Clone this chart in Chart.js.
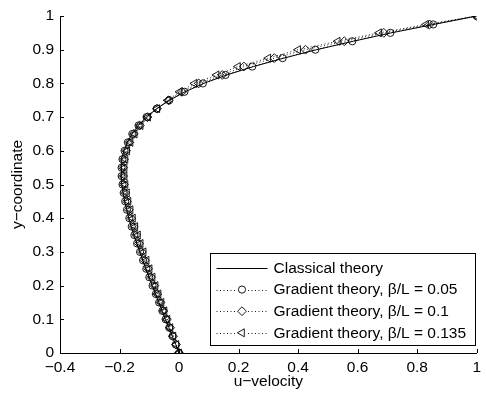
<!DOCTYPE html>
<html>
<head>
<meta charset="utf-8">
<script src="https://cdn.jsdelivr.net/npm/chart.js@4/dist/chart.umd.min.js"></script>
<style>
  html, body { margin: 0; padding: 0; background: #fff; }
  #wrap { width: 486px; height: 394px; }
</style>
</head>
<body>
<div id="wrap"><canvas id="c" width="486" height="394"></canvas></div>
<script>
// Vertical centreline samples
const yCoord = [0, 0.025, 0.05, 0.075, 0.1, 0.125, 0.15, 0.175, 0.2, 0.225,
  0.25, 0.275, 0.3, 0.325, 0.35, 0.375, 0.4, 0.425, 0.45, 0.475,
  0.5, 0.525, 0.55, 0.575, 0.6, 0.625, 0.65, 0.675, 0.7, 0.725,
  0.75, 0.775, 0.8, 0.825, 0.85, 0.875, 0.9, 0.925, 0.95, 0.975, 1];

// u-velocity, classical theory
const uClassical = [0, -0.011, -0.023, -0.034, -0.046, -0.057, -0.068, -0.079, -0.090, -0.101,
  -0.112, -0.122, -0.132, -0.142, -0.152, -0.161, -0.169, -0.176, -0.183, -0.188,
  -0.192, -0.195, -0.195, -0.192, -0.185, -0.174, -0.158, -0.137, -0.110, -0.075,
  -0.032, 0.020, 0.083, 0.160, 0.250, 0.352, 0.462, 0.585, 0.713, 0.856, 1];

// u-velocity, gradient theory, beta/L = 0.05
const uGrad005 = [0, -0.011, -0.022, -0.033, -0.045, -0.056, -0.067, -0.078, -0.089, -0.100,
  -0.110, -0.121, -0.131, -0.141, -0.150, -0.159, -0.167, -0.175, -0.181, -0.186,
  -0.190, -0.193, -0.193, -0.190, -0.183, -0.172, -0.157, -0.136, -0.109, -0.075,
  -0.033, 0.018, 0.080, 0.156, 0.246, 0.348, 0.458, 0.582, 0.710, 0.854, 1];

// u-velocity, gradient theory, beta/L = 0.1
const uGrad010 = [0, -0.010, -0.020, -0.030, -0.041, -0.052, -0.062, -0.073, -0.083, -0.094,
  -0.104, -0.115, -0.125, -0.135, -0.144, -0.153, -0.161, -0.169, -0.175, -0.181,
  -0.185, -0.188, -0.188, -0.185, -0.178, -0.167, -0.152, -0.132, -0.106, -0.074,
  -0.036, 0.010, 0.066, 0.145, 0.218, 0.320, 0.425, 0.555, 0.688, 0.842, 1];

// u-velocity, gradient theory, beta/L = 0.135
const uGrad0135 = [0, -0.009, -0.019, -0.029, -0.039, -0.049, -0.059, -0.069, -0.079, -0.089,
  -0.099, -0.109, -0.119, -0.129, -0.138, -0.147, -0.155, -0.163, -0.170, -0.175,
  -0.180, -0.183, -0.183, -0.180, -0.174, -0.163, -0.149, -0.129, -0.104, -0.073,
  -0.038, 0.002, 0.052, 0.126, 0.198, 0.300, 0.400, 0.533, 0.672, 0.830, 1];

const seriesLabels = ['Classical theory', 'Gradient theory, \u03b2/L = 0.05',
  'Gradient theory, \u03b2/L = 0.1', 'Gradient theory, \u03b2/L = 0.135'];

const xTicks = [-0.4, -0.2, 0, 0.2, 0.4, 0.6, 0.8, 1];
const yTicks = [0, 0.1, 0.2, 0.3, 0.4, 0.5, 0.6, 0.7, 0.8, 0.9, 1];

const FONT = '"Liberation Sans", Arial, Helvetica, sans-serif';
const FSIZE = 15.5;

function pts(us) { return us.map((u, i) => ({ x: u, y: yCoord[i] })); }
function fmt(v) {
  const s = String(Math.round(v * 1000) / 1000);
  return s.replace('-', '\u2212');
}

const markerBase = {
  showLine: true,
  borderColor: '#000',
  backgroundColor: 'rgba(0,0,0,0)',
  borderWidth: 0.9,
  borderDash: [1, 2.5],
  pointBorderColor: '#000',
  pointBackgroundColor: 'rgba(0,0,0,0)',
  pointBorderWidth: 0.9,
  pointHoverRadius: 0
};

const datasets = [
  Object.assign({}, markerBase, {
    label: seriesLabels[3], data: pts(uGrad0135),
    pointStyle: 'triangle', pointRotation: -90, pointRadius: 4.6
  }),
  Object.assign({}, markerBase, {
    label: seriesLabels[2], data: pts(uGrad010),
    pointStyle: 'rectRot', pointRadius: 4.4
  }),
  Object.assign({}, markerBase, {
    label: seriesLabels[1], data: pts(uGrad005),
    pointStyle: 'circle', pointRadius: 3.6
  }),
  {
    label: seriesLabels[0], data: pts(uClassical), showLine: true,
    borderColor: '#000', borderWidth: 1, pointRadius: 0, backgroundColor: 'rgba(0,0,0,0)'
  }
];

// Inward tick marks on both axes plus the boxed legend in the lower right
const decorations = {
  id: 'decorations',
  afterDraw(chart) {
    const ctx = chart.ctx;
    const xs = chart.scales.x, ys = chart.scales.y;
    const a = chart.chartArea;
    ctx.save();
    ctx.strokeStyle = '#000';
    ctx.lineWidth = 1;
    ctx.beginPath();
    xTicks.forEach(v => {
      const px = Math.round(xs.getPixelForValue(v)) + 0.5;
      ctx.moveTo(px, a.bottom); ctx.lineTo(px, a.bottom - 4);
    });
    yTicks.forEach(v => {
      const py = Math.round(ys.getPixelForValue(v)) + 0.5;
      ctx.moveTo(a.left, py); ctx.lineTo(a.left + 4, py);
    });
    ctx.stroke();

    // legend
    const L = { left: 210.5, top: 253.5, right: 475.5, bottom: 345.5 };
    ctx.fillStyle = '#fff';
    ctx.fillRect(L.left, L.top, L.right - L.left, L.bottom - L.top);
    ctx.strokeRect(L.left, L.top, L.right - L.left, L.bottom - L.top);
    const order = [3, 2, 1, 0];
    ctx.font = FSIZE + 'px ' + FONT;
    ctx.textBaseline = 'middle';
    ctx.textAlign = 'left';
    order.forEach((di, row) => {
      const ds = chart.data.datasets[di];
      const y = L.top + 14.5 + row * 21.6;
      const x0 = L.left + 6, x1 = L.left + 57, xm = (x0 + x1) / 2;
      ctx.save();
      ctx.strokeStyle = '#000';
      ctx.lineWidth = ds.borderWidth || 1;
      if (ds.borderDash) ctx.setLineDash(ds.borderDash);
      ctx.beginPath();
      ctx.moveTo(x0, Math.round(y) + 0.5); ctx.lineTo(x1, Math.round(y) + 0.5);
      ctx.stroke();
      ctx.restore();
      if (ds.pointRadius) {
        ctx.save();
        ctx.fillStyle = '#fff';
        ctx.fillRect(xm - 5, y - 5, 10, 10);
        ctx.strokeStyle = '#000';
        ctx.lineWidth = ds.pointBorderWidth;
        Chart.helpers.drawPoint(ctx, {
          pointStyle: ds.pointStyle, rotation: ds.pointRotation || 0,
          radius: ds.pointRadius, borderWidth: ds.pointBorderWidth
        }, xm, y);
        ctx.restore();
      }
      ctx.fillStyle = '#000';
      ctx.fillText(ds.label, L.left + 63, y + 0.5);
    });
    ctx.restore();
  }
};

new Chart(document.getElementById('c'), {
  type: 'scatter',
  data: { datasets },
  options: {
    responsive: false,
    devicePixelRatio: 1,
    animation: false,
    events: [],
    layout: { padding: { top: 16, right: 6, left: 0, bottom: 0 } },
    plugins: { legend: { display: false }, tooltip: { enabled: false } },
    scales: {
      x: {
        type: 'linear', min: -0.4, max: 1,
        afterBuildTicks: s => { s.ticks = xTicks.map(v => ({ value: v })); },
        afterFit: s => { s.height = 41; },
        grid: { display: false, drawTicks: false, tickLength: 0 },
        border: { display: true, color: '#000', width: 1 },
        ticks: {
          color: '#000', padding: 5, maxRotation: 0, autoSkip: false,
          font: { family: FONT, size: FSIZE },
          callback: v => fmt(v)
        },
        title: {
          display: true, text: 'u\u2212velocity', color: '#000',
          font: { family: FONT, size: FSIZE }, padding: { top: 0, bottom: 3 }
        }
      },
      y: {
        type: 'linear', min: 0, max: 1,
        afterBuildTicks: s => { s.ticks = yTicks.map(v => ({ value: v })); },
        afterFit: s => { s.width = 60; },
        grid: { display: false, drawTicks: false, tickLength: 0 },
        border: { display: true, color: '#000', width: 1 },
        ticks: {
          color: '#000', padding: 6, autoSkip: false,
          font: { family: FONT, size: FSIZE },
          callback: v => fmt(v)
        },
        title: {
          display: true, text: 'y\u2212coordinate', color: '#000',
          font: { family: FONT, size: FSIZE }, padding: { top: 8, bottom: 0 }
        }
      }
    }
  },
  plugins: [decorations]
});
</script>
</body>
</html>
